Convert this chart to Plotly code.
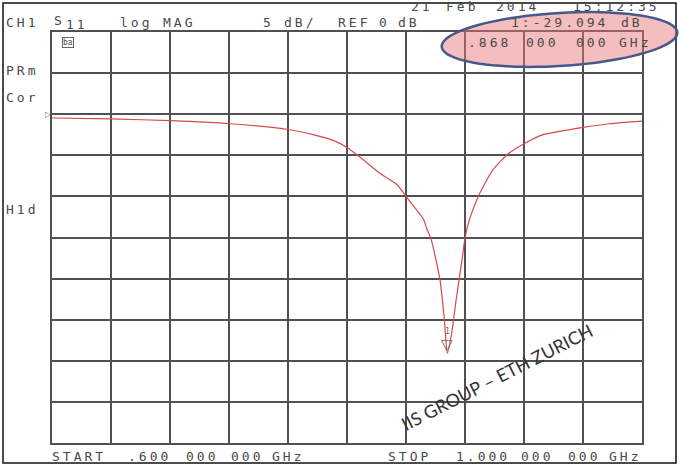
import numpy as np
import plotly.graph_objects as go

# ---------------- data ----------------
freq_ghz = [0.600, 0.640, 0.681, 0.721, 0.761, 0.777, 0.791, 0.800, 0.811, 0.822,
            0.834, 0.840, 0.847, 0.852, 0.854, 0.857, 0.863, 0.866, 0.868, 0.871,
            0.874, 0.878, 0.880, 0.883, 0.889, 0.899, 0.910, 0.921, 0.933, 0.944,
            0.960, 0.978, 1.000]
s11_db = [-0.46, -0.58, -0.79, -1.16, -1.89, -2.49, -3.22, -4.04, -5.53, -7.15,
          -8.58, -10.0, -11.62, -12.83, -13.9, -15.2, -20.1, -24.97, -29.09, -26.6,
          -22.57, -17.7, -15.06, -12.83, -10.0, -6.75, -4.72, -3.5, -2.49, -2.09,
          -1.6, -1.16, -0.85]
marker_freq_ghz = [0.868]
marker_db = [-29.094]
start_ghz = 0.6
stop_ghz = 1.0
ref_db = 0
scale_db_per_div = 5
ref_div_from_top = 2
n_div = 10

y_top = ref_db + ref_div_from_top * scale_db_per_div
y_bot = y_top - n_div * scale_db_per_div

# ---------------- layout geometry ----------------
W, H = 679, 465
L, R, T, B = 52, 37, 32, 22
PW, PH = W - L - R, H - T - B


def px(x):
    return (x - L) / PW


def py(y):
    return (H - B - y) / PH


TXT = "#4a4a4a"
MONO = "DejaVu Sans Mono"


def spaced(s, ls=3.0):
    return f'<span style="letter-spacing:{ls}px">{s}</span>'


fig = go.Figure()
fig.add_trace(go.Scatter(x=freq_ghz, y=s11_db, mode="lines",
                         line=dict(color="#d64a4a", width=1.2, shape="spline", smoothing=0.6),
                         hoverinfo="skip", showlegend=False))

labels = [
    ("CH1", 4, 22), ("S", 52, 21), ("11", 64, 25), ("log", 118, 22), ("MAG", 161, 22),
    ("5", 261, 22), ("dB/", 282, 22), ("REF", 336, 22), ("0", 377, 22), ("dB", 396, 22),
    ("21", 409, 6), ("Feb", 444, 6), ("2014", 494, 6), ("15:12:35", 571, 6),
    ("1:-29.094", 509, 22), ("dB", 619, 22),
    (".868", 466, 43), ("000", 524, 43), ("000", 574, 43), ("GHz", 617, 43),
    ("PRm", 4, 70), ("Cor", 4, 97), ("H1d", 4, 209),
    ("START", 50, 456), (".600", 126, 456), ("000", 184, 456), ("000", 229, 456),
    ("GHz", 270, 456),
    ("STOP", 386, 456), ("1.000", 454, 456), ("000", 519, 456), ("000", 566, 456),
    ("GHz", 607, 456),
]

annotations = []
for s, x, y in labels:
    annotations.append(dict(text=spaced(s), x=px(x), y=py(y), xref="paper", yref="paper",
                            xanchor="left", yanchor="middle", showarrow=False,
                            font=dict(family=MONO, size=13, color=TXT)))

# reference level arrow
annotations.append(dict(text="▷", x=px(43), y=ref_db, xref="paper", yref="y",
                        xanchor="left", yanchor="middle", showarrow=False,
                        font=dict(family="DejaVu Sans", size=8, color="#666")))
# small icon
annotations.append(dict(text="ba", x=px(67.5), y=py(42.5), xref="paper", yref="paper",
                        xanchor="center", yanchor="middle", showarrow=False,
                        bordercolor="#666", borderwidth=1, borderpad=0,
                        font=dict(family=MONO, size=8, color="#555")))
# marker triangle and label
annotations.append(dict(text="▽", x=marker_freq_ghz[0], y=marker_db[0], xref="x", yref="y",
                        xanchor="center", yanchor="bottom", yshift=-3, showarrow=False,
                        font=dict(family="DejaVu Sans", size=15, color="#666")))
annotations.append(dict(text="1", x=marker_freq_ghz[0], y=marker_db[0], xref="x", yref="y",
                        xanchor="center", yanchor="middle", yshift=22, showarrow=False,
                        font=dict(family=MONO, size=8, color="#666")))
# watermark
annotations.append(dict(text="IIS GROUP – ETH ZURICH", x=px(497), y=py(377),
                        xref="paper", yref="paper", xanchor="center", yanchor="middle",
                        textangle=-27, showarrow=False,
                        font=dict(family="Lato", size=18, color="#333")))

# ellipse highlight (slightly tilted)
t = np.linspace(0, 2 * np.pi, 90)
cx, cy, a, b, ang = 559.5, 39.5, 118, 26.5, np.deg2rad(-3.5)
ex = cx + a * np.cos(t) * np.cos(ang) - b * np.sin(t) * np.sin(ang)
ey = cy + a * np.cos(t) * np.sin(ang) + b * np.sin(t) * np.cos(ang)
path = "M " + " L ".join(f"{px(u):.5f},{py(v):.5f}" for u, v in zip(ex, ey)) + " Z"

shapes = [
    dict(type="rect", xref="paper", yref="paper", x0=px(3), x1=px(676), y0=py(463), y1=py(3),
         line=dict(color="#111", width=1.5), fillcolor="rgba(0,0,0,0)", layer="below"),
    dict(type="path", path=path, xref="paper", yref="paper",
         fillcolor="rgba(232,120,120,0.48)", line=dict(color="#45588a", width=2.5),
         layer="above"),
]

grid = dict(showgrid=True, gridcolor="#505050", gridwidth=1.6, zeroline=False,
            showticklabels=False, ticks="", showline=True, linecolor="#505050",
            linewidth=1.6, mirror=True, fixedrange=True)

fig.update_layout(
    width=W, height=H,
    margin=dict(l=L, r=R, t=T, b=B, pad=0),
    paper_bgcolor="white", plot_bgcolor="white",
    xaxis=dict(range=[start_ghz, stop_ghz], dtick=(stop_ghz - start_ghz) / n_div,
               tick0=start_ghz, **grid),
    yaxis=dict(range=[y_bot, y_top], dtick=scale_db_per_div, tick0=y_bot, **grid),
    annotations=annotations,
    shapes=shapes,
    showlegend=False,
)

fig.write_html("out.html", config={"displayModeBar": False},
               post_script="document.body.style.margin='0';document.body.style.overflow='hidden';")
